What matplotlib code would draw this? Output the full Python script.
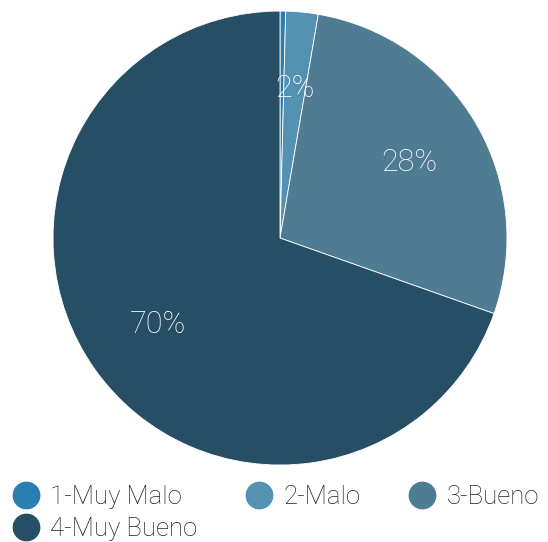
import matplotlib.pyplot as plt
from matplotlib.lines import Line2D

categorias = ["1-Muy Malo", "2-Malo", "3-Bueno", "4-Muy Bueno"]
valores = [0.4, 2.3, 27.7, 69.6]
colores = ["#2a7fb0", "#5592b2", "#4f7b93", "#264f66"]

plt.rcParams["font.family"] = ["Roboto", "DejaVu Sans"]

fig = plt.figure(figsize=(5.48, 5.42), dpi=100)
ax = fig.add_axes([0.0967, 0.142, 0.8285, 0.8376])


def etiqueta(p):
    return f"{p:.0f}%" if p >= 1 else ""


wedges, texts, autotexts = ax.pie(
    valores, colors=colores, startangle=90, counterclock=False,
    autopct=etiqueta, pctdistance=0.66, radius=1,
    wedgeprops=dict(edgecolor="white", linewidth=0.6),
    textprops=dict(color="white", fontsize=22, fontweight="light"))
ax.set_xlim(-1, 1)
ax.set_ylim(-1, 1)
ax.set_aspect("equal")

handles = [Line2D([], [], marker="o", linestyle="", markersize=19,
                  markerfacecolor=c, markeredgecolor=c) for c in colores]
orden = [0, 3, 1, 2]
fig.legend([handles[i] for i in orden], [categorias[i] for i in orden],
           ncol=3, loc="lower left", bbox_to_anchor=(-0.016, -0.040),
           frameon=False, prop=dict(size=18.5, weight="light"),
           handlelength=0.9, handletextpad=0.5, columnspacing=1.95,
           labelspacing=0.3, labelcolor="#222222")

fig.savefig("out.png", dpi=100)
